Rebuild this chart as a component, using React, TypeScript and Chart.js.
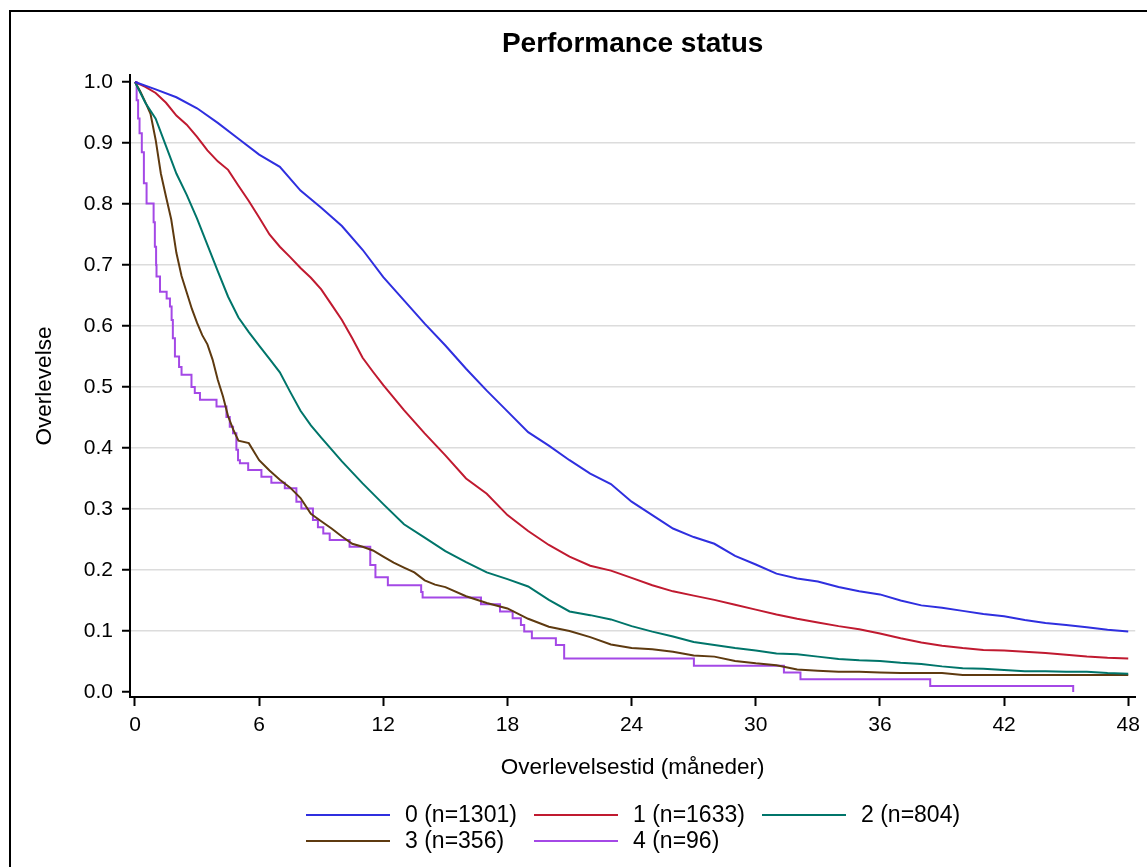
import React, { useEffect, useRef } from "react";
import { Chart, registerables } from "chart.js";

Chart.register(...registerables);

const FONT_FAMILY = '"Liberation Sans", Arial, Helvetica, sans-serif';

const chartTitle = "Performance status";
const yAxisTitle = "Overlevelse";
const xAxisTitle = "Overlevelsestid (måneder)";

const xTickValues = [0, 6, 12, 18, 24, 30, 36, 42, 48];
const yTickValues = [0, 0.1, 0.2, 0.3, 0.4, 0.5, 0.6, 0.7, 0.8, 0.9, 1.0];

const seriesLabels = ["0 (n=1301)", "1 (n=1633)", "2 (n=804)", "3 (n=356)", "4 (n=96)"];
const seriesColors = ["#2f2fdf", "#c01a30", "#00756a", "#5e3a10", "#a448e6"];

// PS 0
const monthsPS0 = [0, 1, 2, 3, 4, 5, 6, 7, 8, 9, 10, 11, 12, 13, 14, 15, 16, 17, 18, 19, 20, 21, 22, 23, 24, 25, 26, 27, 28, 29, 30, 31, 32, 33, 34, 35, 36, 37, 38, 39, 40, 41, 42, 43, 44, 45, 46, 47, 48];
const survivalPS0 = [1.0, 0.988, 0.975, 0.957, 0.933, 0.907, 0.881, 0.861, 0.822, 0.794, 0.764, 0.725, 0.68, 0.642, 0.604, 0.568, 0.53, 0.494, 0.46, 0.426, 0.404, 0.38, 0.358, 0.341, 0.312, 0.29, 0.268, 0.254, 0.243, 0.223, 0.209, 0.194, 0.186, 0.181, 0.172, 0.165, 0.16, 0.15, 0.142, 0.138, 0.133, 0.128, 0.124, 0.118, 0.113, 0.11, 0.106, 0.102, 0.099];

// PS 1
const monthsPS1 = [0, 0.5, 1, 1.5, 2, 2.5, 3, 3.5, 4, 4.5, 5, 5.5, 6, 6.5, 7, 7.5, 8, 8.5, 9, 9.5, 10, 10.5, 11, 11.5, 12, 13, 14, 15, 16, 17, 18, 19, 20, 21, 22, 23, 24, 25, 26, 27, 28, 29, 30, 31, 32, 33, 34, 35, 36, 37, 38, 39, 40, 41, 42, 43, 44, 45, 46, 47, 48];
const survivalPS1 = [1.0, 0.992, 0.982, 0.966, 0.945, 0.93, 0.91, 0.888, 0.87, 0.856, 0.83, 0.805, 0.778, 0.75, 0.73, 0.713, 0.695, 0.679, 0.66, 0.635, 0.61, 0.58, 0.548, 0.525, 0.503, 0.462, 0.424, 0.388, 0.35, 0.325, 0.29, 0.264, 0.241, 0.222, 0.207, 0.199, 0.187, 0.175, 0.165, 0.158, 0.151, 0.143, 0.135, 0.127, 0.12, 0.114, 0.108, 0.103, 0.096, 0.088, 0.081, 0.076, 0.072, 0.069, 0.068, 0.066, 0.064, 0.061, 0.058, 0.056, 0.055];

// PS 2
const monthsPS2 = [0, 0.5, 1, 1.5, 2, 2.5, 3, 3.5, 4, 4.5, 5, 5.5, 6, 6.5, 7, 7.5, 8, 8.5, 9, 10, 11, 12, 13, 14, 15, 16, 17, 18, 19, 20, 21, 22, 23, 24, 25, 26, 27, 28, 29, 30, 31, 32, 33, 34, 35, 36, 37, 38, 39, 40, 41, 42, 43, 44, 45, 46, 47, 48];
const survivalPS2 = [1.0, 0.966, 0.94, 0.895, 0.85, 0.815, 0.776, 0.733, 0.69, 0.648, 0.614, 0.59, 0.568, 0.546, 0.524, 0.492, 0.461, 0.437, 0.417, 0.378, 0.342, 0.308, 0.275, 0.253, 0.231, 0.213, 0.196, 0.185, 0.173, 0.151, 0.132, 0.126, 0.119, 0.108, 0.099, 0.091, 0.082, 0.077, 0.072, 0.068, 0.063, 0.062, 0.058, 0.054, 0.052, 0.051, 0.048, 0.046, 0.042, 0.039, 0.038, 0.036, 0.034, 0.034, 0.033, 0.033, 0.031, 0.03];

// PS 3
const monthsPS3 = [0, 0.25, 0.5, 0.75, 1, 1.25, 1.5, 1.75, 2, 2.25, 2.5, 2.75, 3, 3.25, 3.5, 3.75, 4, 4.25, 4.5, 4.75, 5, 5.5, 6, 6.5, 7, 7.5, 8, 8.5, 9, 9.5, 10, 10.5, 11, 11.5, 12, 12.5, 13, 13.5, 14, 14.5, 15, 16, 17, 18, 19, 20, 21, 22, 23, 24, 25, 26, 27, 28, 29, 30, 31, 32, 33, 34, 35, 36, 37, 38, 39, 40, 41, 42, 43, 44, 45, 46, 47, 48];
const survivalPS3 = [1.0, 0.985, 0.967, 0.948, 0.905, 0.85, 0.812, 0.775, 0.72, 0.682, 0.655, 0.628, 0.605, 0.585, 0.57, 0.545, 0.512, 0.485, 0.452, 0.43, 0.412, 0.408, 0.38, 0.363, 0.348, 0.335, 0.318, 0.292, 0.28, 0.268, 0.255, 0.243, 0.238, 0.232, 0.222, 0.212, 0.204, 0.196, 0.183, 0.176, 0.172, 0.157, 0.146, 0.137, 0.12, 0.107, 0.1, 0.09, 0.078, 0.072, 0.07, 0.066, 0.06, 0.058, 0.051, 0.047, 0.044, 0.037, 0.035, 0.033, 0.033, 0.032, 0.031, 0.031, 0.031, 0.028, 0.028, 0.028, 0.028, 0.028, 0.028, 0.028, 0.028, 0.028];

// PS 4 (step points: survival drops to value at given month)
const monthsPS4 = [0, 0.08, 0.15, 0.22, 0.33, 0.43, 0.56, 0.9, 0.96, 1.02, 1.04, 1.21, 1.53, 1.69, 1.77, 1.83, 1.93, 2.13, 2.25, 2.73, 2.89, 3.14, 3.94, 4.42, 4.58, 4.74, 4.9, 4.98, 5.07, 5.47, 6.11, 6.59, 7.24, 7.8, 8.04, 8.6, 8.84, 9.1, 9.41, 10.37, 11.37, 11.62, 12.22, 13.83, 13.9, 16.72, 17.64, 18.25, 18.65, 18.81, 19.18, 20.34, 20.74, 27.01, 31.36, 32.16, 38.43, 45.34];
const survivalPS4 = [1.0, 0.97, 0.94, 0.916, 0.885, 0.834, 0.801, 0.77, 0.73, 0.7, 0.681, 0.656, 0.645, 0.632, 0.61, 0.58, 0.55, 0.533, 0.52, 0.5, 0.49, 0.479, 0.468, 0.451, 0.435, 0.424, 0.397, 0.38, 0.375, 0.364, 0.353, 0.343, 0.334, 0.312, 0.301, 0.282, 0.27, 0.26, 0.249, 0.238, 0.208, 0.188, 0.175, 0.164, 0.155, 0.144, 0.132, 0.121, 0.11, 0.099, 0.088, 0.077, 0.055, 0.043, 0.032, 0.021, 0.0098, 0.0];

const seriesMonths = [monthsPS0, monthsPS1, monthsPS2, monthsPS3, monthsPS4];
const seriesSurvival = [survivalPS0, survivalPS1, survivalPS2, survivalPS3, survivalPS4];

const framePlugin = {
  id: "outerFrame",
  beforeDraw(chart: any) {
    const ctx = chart.ctx;
    ctx.save();
    ctx.fillStyle = "#ffffff";
    ctx.fillRect(0, 0, chart.width, chart.height);
    ctx.strokeStyle = "#000000";
    ctx.lineWidth = 2;
    ctx.strokeRect(10, 11, chart.width + 50, chart.height + 50);
    ctx.restore();
  },
};

const legendPlugin = {
  id: "gridLegend",
  afterDraw(chart: any) {
    const ctx = chart.ctx;
    const colX = [306, 534, 762];
    const rowY = [815, 841];
    ctx.save();
    ctx.font = `23px ${FONT_FAMILY}`;
    ctx.textBaseline = "middle";
    ctx.textAlign = "left";
    chart.data.datasets.forEach((ds: any, i: number) => {
      const x = colX[i % 3];
      const y = rowY[Math.floor(i / 3)];
      ctx.strokeStyle = ds.borderColor;
      ctx.lineWidth = 2;
      ctx.beginPath();
      ctx.moveTo(x, y);
      ctx.lineTo(x + 84, y);
      ctx.stroke();
      ctx.fillStyle = "#000000";
      ctx.fillText(ds.label, x + 99, y + 1);
    });
    ctx.restore();
  },
};

export default function App() {
  const canvasRef = useRef<HTMLCanvasElement>(null);

  useEffect(() => {
    const canvas = canvasRef.current;
    if (!canvas) return;
    const datasets = seriesLabels.map((label, i) => ({
      label,
      data: seriesMonths[i].map((m, j) => ({ x: m, y: seriesSurvival[i][j] })),
      borderColor: seriesColors[i],
      backgroundColor: seriesColors[i],
      borderWidth: 2,
      pointRadius: 0,
      pointHoverRadius: 0,
      tension: 0,
      fill: false,
      stepped: i === 4 ? ("before" as const) : false,
    }));

    const chart = new Chart(canvas, {
      type: "line",
      data: { datasets },
      options: {
        responsive: false,
        animation: false,
        events: [],
        layout: { padding: { left: 0, top: 0, right: 10, bottom: 0 } },
        plugins: {
          legend: { display: false },
          tooltip: { enabled: false },
          title: {
            display: true,
            text: chartTitle,
            fullSize: false,
            color: "#000000",
            font: { family: FONT_FAMILY, size: 28, weight: "bold" },
            padding: { top: 27.2, bottom: 14.2 },
          },
        },
        scales: {
          x: {
            type: "linear",
            min: -0.241,
            max: 48.338,
            afterBuildTicks: (scale: any) => {
              scale.ticks = xTickValues.map((v) => ({ value: v }));
            },
            afterFit: (scale: any) => {
              scale.height = 170;
            },
            ticks: {
              color: "#000000",
              font: { family: FONT_FAMILY, size: 21 },
              padding: 7,
              maxRotation: 0,
              autoSkip: false,
              callback: (v: any) => String(v),
            },
            grid: {
              drawOnChartArea: false,
              drawTicks: true,
              tickLength: 9,
              tickColor: "#000000",
              tickWidth: 2,
            },
            border: { display: true, color: "#000000", width: 2 },
            title: {
              display: true,
              text: xAxisTitle,
              color: "#000000",
              font: { family: FONT_FAMILY, size: 22.5 },
              padding: { top: 0, bottom: 85.5 },
            },
          },
          y: {
            type: "linear",
            min: -0.0082,
            max: 1.0115,
            afterBuildTicks: (scale: any) => {
              scale.ticks = yTickValues.map((v) => ({ value: v }));
            },
            afterFit: (scale: any) => {
              scale.width = 130;
            },
            ticks: {
              color: "#000000",
              font: { family: FONT_FAMILY, size: 21 },
              padding: 9,
              autoSkip: false,
              callback: (v: any) => Number(v).toFixed(1),
            },
            grid: {
              drawOnChartArea: true,
              drawTicks: true,
              tickLength: 8,
              tickColor: "#000000",
              tickWidth: 2,
              lineWidth: 1.5,
              color: (ctx: any) => {
                const v = ctx.tick ? ctx.tick.value : null;
                return v === 0 || v === 1 ? "rgba(0,0,0,0)" : "#dcdcdc";
              },
            },
            border: { display: true, color: "#000000", width: 2 },
            title: {
              display: true,
              text: yAxisTitle,
              color: "#000000",
              font: { family: FONT_FAMILY, size: 22.5 },
              padding: { top: 31.5, bottom: 0 },
            },
          },
        },
      },
      plugins: [framePlugin, legendPlugin],
    } as any);

    return () => chart.destroy();
  }, []);

  return (
    <div style={{ position: "fixed", left: 0, top: 0, width: 1147, height: 867, background: "#ffffff" }}>
      <canvas ref={canvasRef} width={1147} height={867} style={{ display: "block", width: 1147, height: 867 }} />
    </div>
  );
}
